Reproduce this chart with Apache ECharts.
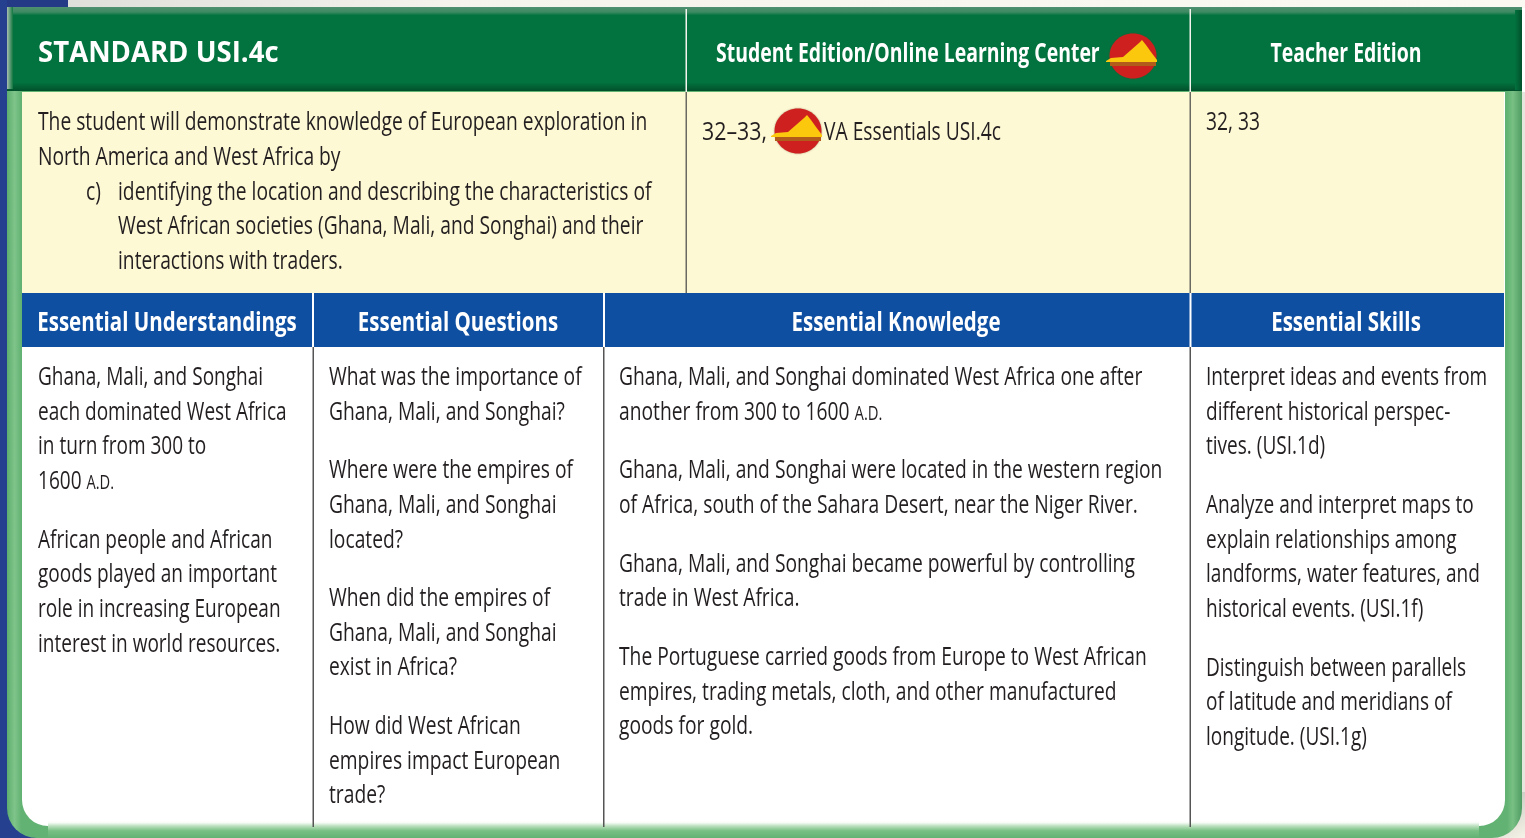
<!DOCTYPE html>
<html><head><meta charset="utf-8">
<style>html,body{margin:0;padding:0;background:#fff;overflow:hidden}#c{width:1525px;height:838px}</style>
<script src="https://cdn.jsdelivr.net/npm/echarts@6/dist/echarts.min.js"></script>
</head><body><div id="c"></div>
<script>
const standardTitle = 'STANDARD USI.4c';
const topHeaders = ['Student Edition/Online Learning Center', 'Teacher Edition'];
const standardLines = ['The student will demonstrate knowledge of European exploration in','North America and West Africa by'];
const standardItemMark = 'c)';
const standardItemLines = ['identifying the location and describing the characteristics of','West African societies (Ghana, Mali, and Songhai) and their','interactions with traders.'];
const studentPages = ['32–33,', 'VA Essentials USI.4c'];
const teacherPages = ['32, 33'];
const columnHeaders = ['Essential Understandings','Essential Questions','Essential Knowledge','Essential Skills'];
const understandings = [['Ghana, Mali, and Songhai','each dominated West Africa','in turn from 300 to','1600 {sc|A.D.}'],['African people and African','goods played an important','role in increasing European','interest in world resources.']];
const questions = [['What was the importance of','Ghana, Mali, and Songhai?'],['Where were the empires of','Ghana, Mali, and Songhai','located?'],['When did the empires of','Ghana, Mali, and Songhai','exist in Africa?'],['How did West African','empires impact European','trade?']];
const knowledge = [['Ghana, Mali, and Songhai dominated West Africa one after','another from 300 to 1600 {sc|A.D.}'],['Ghana, Mali, and Songhai were located in the western region','of Africa, south of the Sahara Desert, near the Niger River.'],['Ghana, Mali, and Songhai became powerful by controlling','trade in West Africa.'],['The Portuguese carried goods from Europe to West African','empires, trading metals, cloth, and other manufactured','goods for gold.']];
const skills = [['Interpret ideas and events from','different historical perspec-','tives. (USI.1d)'],['Analyze and interpret maps to','explain relationships among','landforms, water features, and','historical events. (USI.1f)'],['Distinguish between parallels','of latitude and meridians of','longitude. (USI.1g)']];

const FONT = '"Open Sans"';
const els = [];
const G = (x0,y0,x1,y1,stops)=>new echarts.graphic.LinearGradient(x0,y0,x1,y1,stops.map(c=>({offset:c[0],color:c[1]})));
function rect(x,y,w,h,fill,r){els.push({type:'rect',shape:{x,y,width:w,height:h,r:r||0},style:{fill},silent:true});}
function text(str,x,y,o){o=o||{};
  els.push({type:'text',x,y,scaleX:o.sx||0.74,silent:true,style:{text:str,x:0,y:0,fill:o.fill||'#231f20',align:o.align||'left',verticalAlign:'middle',
    font:(o.weight||'400')+' '+(o.size||26)+'px '+FONT,
    rich:{sc:{font:'400 20px '+FONT,fill:o.fill||'#231f20',verticalAlign:'middle',padding:[3,0,0,0]}}}});
}
function icon(cx,cy){
  const children=[
    {type:'ellipse',shape:{cx:0,cy:0,rx:23.5,ry:22.5},style:{fill:'#cf2020',shadowBlur:2,shadowColor:'rgba(90,60,20,.5)'}},
    {type:'polygon',shape:{points:[[-27,5],[-22,2],[-10,1],[-2,-6],[6,-13],[9,-16],[13,-11],[18,-4],[24,4],[24,6],[-27,6]]},style:{fill:'#fcc80e'}},
    {type:'rect',shape:{x:-23,y:6,width:46,height:4},style:{fill:'#b25c1c'}}
  ];
  els.push({type:'group',x:cx,y:cy,silent:true,children});
}
function block(paragraphs,x,ys,o){let i=0;paragraphs.forEach(p=>p.forEach(l=>{text(l,x,ys[i++],o);}));}

// backdrop
rect(0,0,1525,838,'#fff');
rect(0,0,1525,8,G(0,0,1,0,[[0,'#dcdcd8'],[0.3,'#f4f3ec'],[1,'#faf9f2']]));
rect(0,0,68,8,'#243a86');
rect(0,0,7,838,'#25408e');
rect(0,770,60,68,'#25408e');
rect(1490,780,35,58,G(0,0,1,1,[[0.3,'#c8c8c0'],[1,'#f6f4e8']]));
rect(1522,92,3,700,'#e6e6df');
// frame
rect(7,60,1515,778,G(0,0,1,0,[[0,'#5dae6f'],[0.005,'#7fc48a'],[0.0095,'#62b273'],[0.99,'#62b273'],[0.994,'#78c084'],[1,'#4f9b62']]),[0,0,30,30]);
rect(22,92,1483,734,'#ffffff',[0,0,26,26]);
rect(48,820,1431,18,G(0,0,0,1,[[0,'rgba(255,255,255,0)'],[0.15,'#f7fbf6'],[0.35,'#b6deba'],[0.6,'#78c084'],[1,'#62b273']]));
// header band
rect(7,7,1515,84,G(0,0,0,1,[[0,'#4f9070'],[0.06,'#3d8a62'],[0.1,'#02723e'],[0.9,'#02723e'],[1,'#01502b']]));
rect(7,7,6,82,G(0,0,1,0,[[0,'#a8bfae'],[1,'#10763f']]));
rect(1515,10,7,80,G(0,0,1,0,[[0,'#02723e'],[1,'#01502b']]));
// cream band & blue band
rect(22,92,1482,201,'#fef9d5');
rect(22,293,1482,54,'#0e4fa1');
// rules
const rule=(x,y0,y1,c,w)=>rect(x,y0,w||1.5,y1-y0,c);
rule(685.5,9,92,'#f4f4ee');rule(1189.5,9,92,'#f4f4ee');
rule(685.5,92,293,'#6a6a60');rule(1189.5,92,293,'#6a6a60');
rule(312,293,347,'#fff',2);rule(603,293,347,'#fff',2);rule(1189.5,293,347,'#fff',2);
rule(312.5,347,827,'#555');rule(603,347,827,'#555');rule(1189.5,347,827,'#555');

// header text
text(standardTitle,38,54,{fill:'#fff',weight:'700',size:29,sx:0.95});
text(topHeaders[0],716,54,{fill:'#fff',weight:'700',size:27,sx:0.72});
text(topHeaders[1],1346,54,{fill:'#fff',weight:'700',size:27,sx:0.72,align:'center'});
icon(1133,56);
// cream text
block([standardLines],38,[123,158],{});
text(standardItemMark,86,193,{});
block([standardItemLines],118,[193,227,262],{});
text(studentPages[0],702,133,{sx:0.82});
icon(798,131);
text(studentPages[1],824,133,{});
text(teacherPages[0],1206,123,{});
// blue headers
const headerX=[167,458,896,1346];
columnHeaders.forEach((h,i)=>text(h,headerX[i],323,{fill:'#fff',weight:'700',size:27,sx:0.76,align:'center'}));
// body
block(understandings,38,[378,413,447,482,541,575,610,645],{sx:0.732});
block(questions,329,[378,413,471,506,541,599,634,668,727,762,796],{});
block(knowledge,619,[378,413,471,506,565,599,658,693,727],{});
block(skills,1206,[378,413,447,506,541,575,610,669,703,738],{sx:0.732});

const chart=echarts.init(document.getElementById('c'),null,{renderer:'canvas'});
chart.setOption({animation:false,graphic:{elements:els}});
</script></body></html>
